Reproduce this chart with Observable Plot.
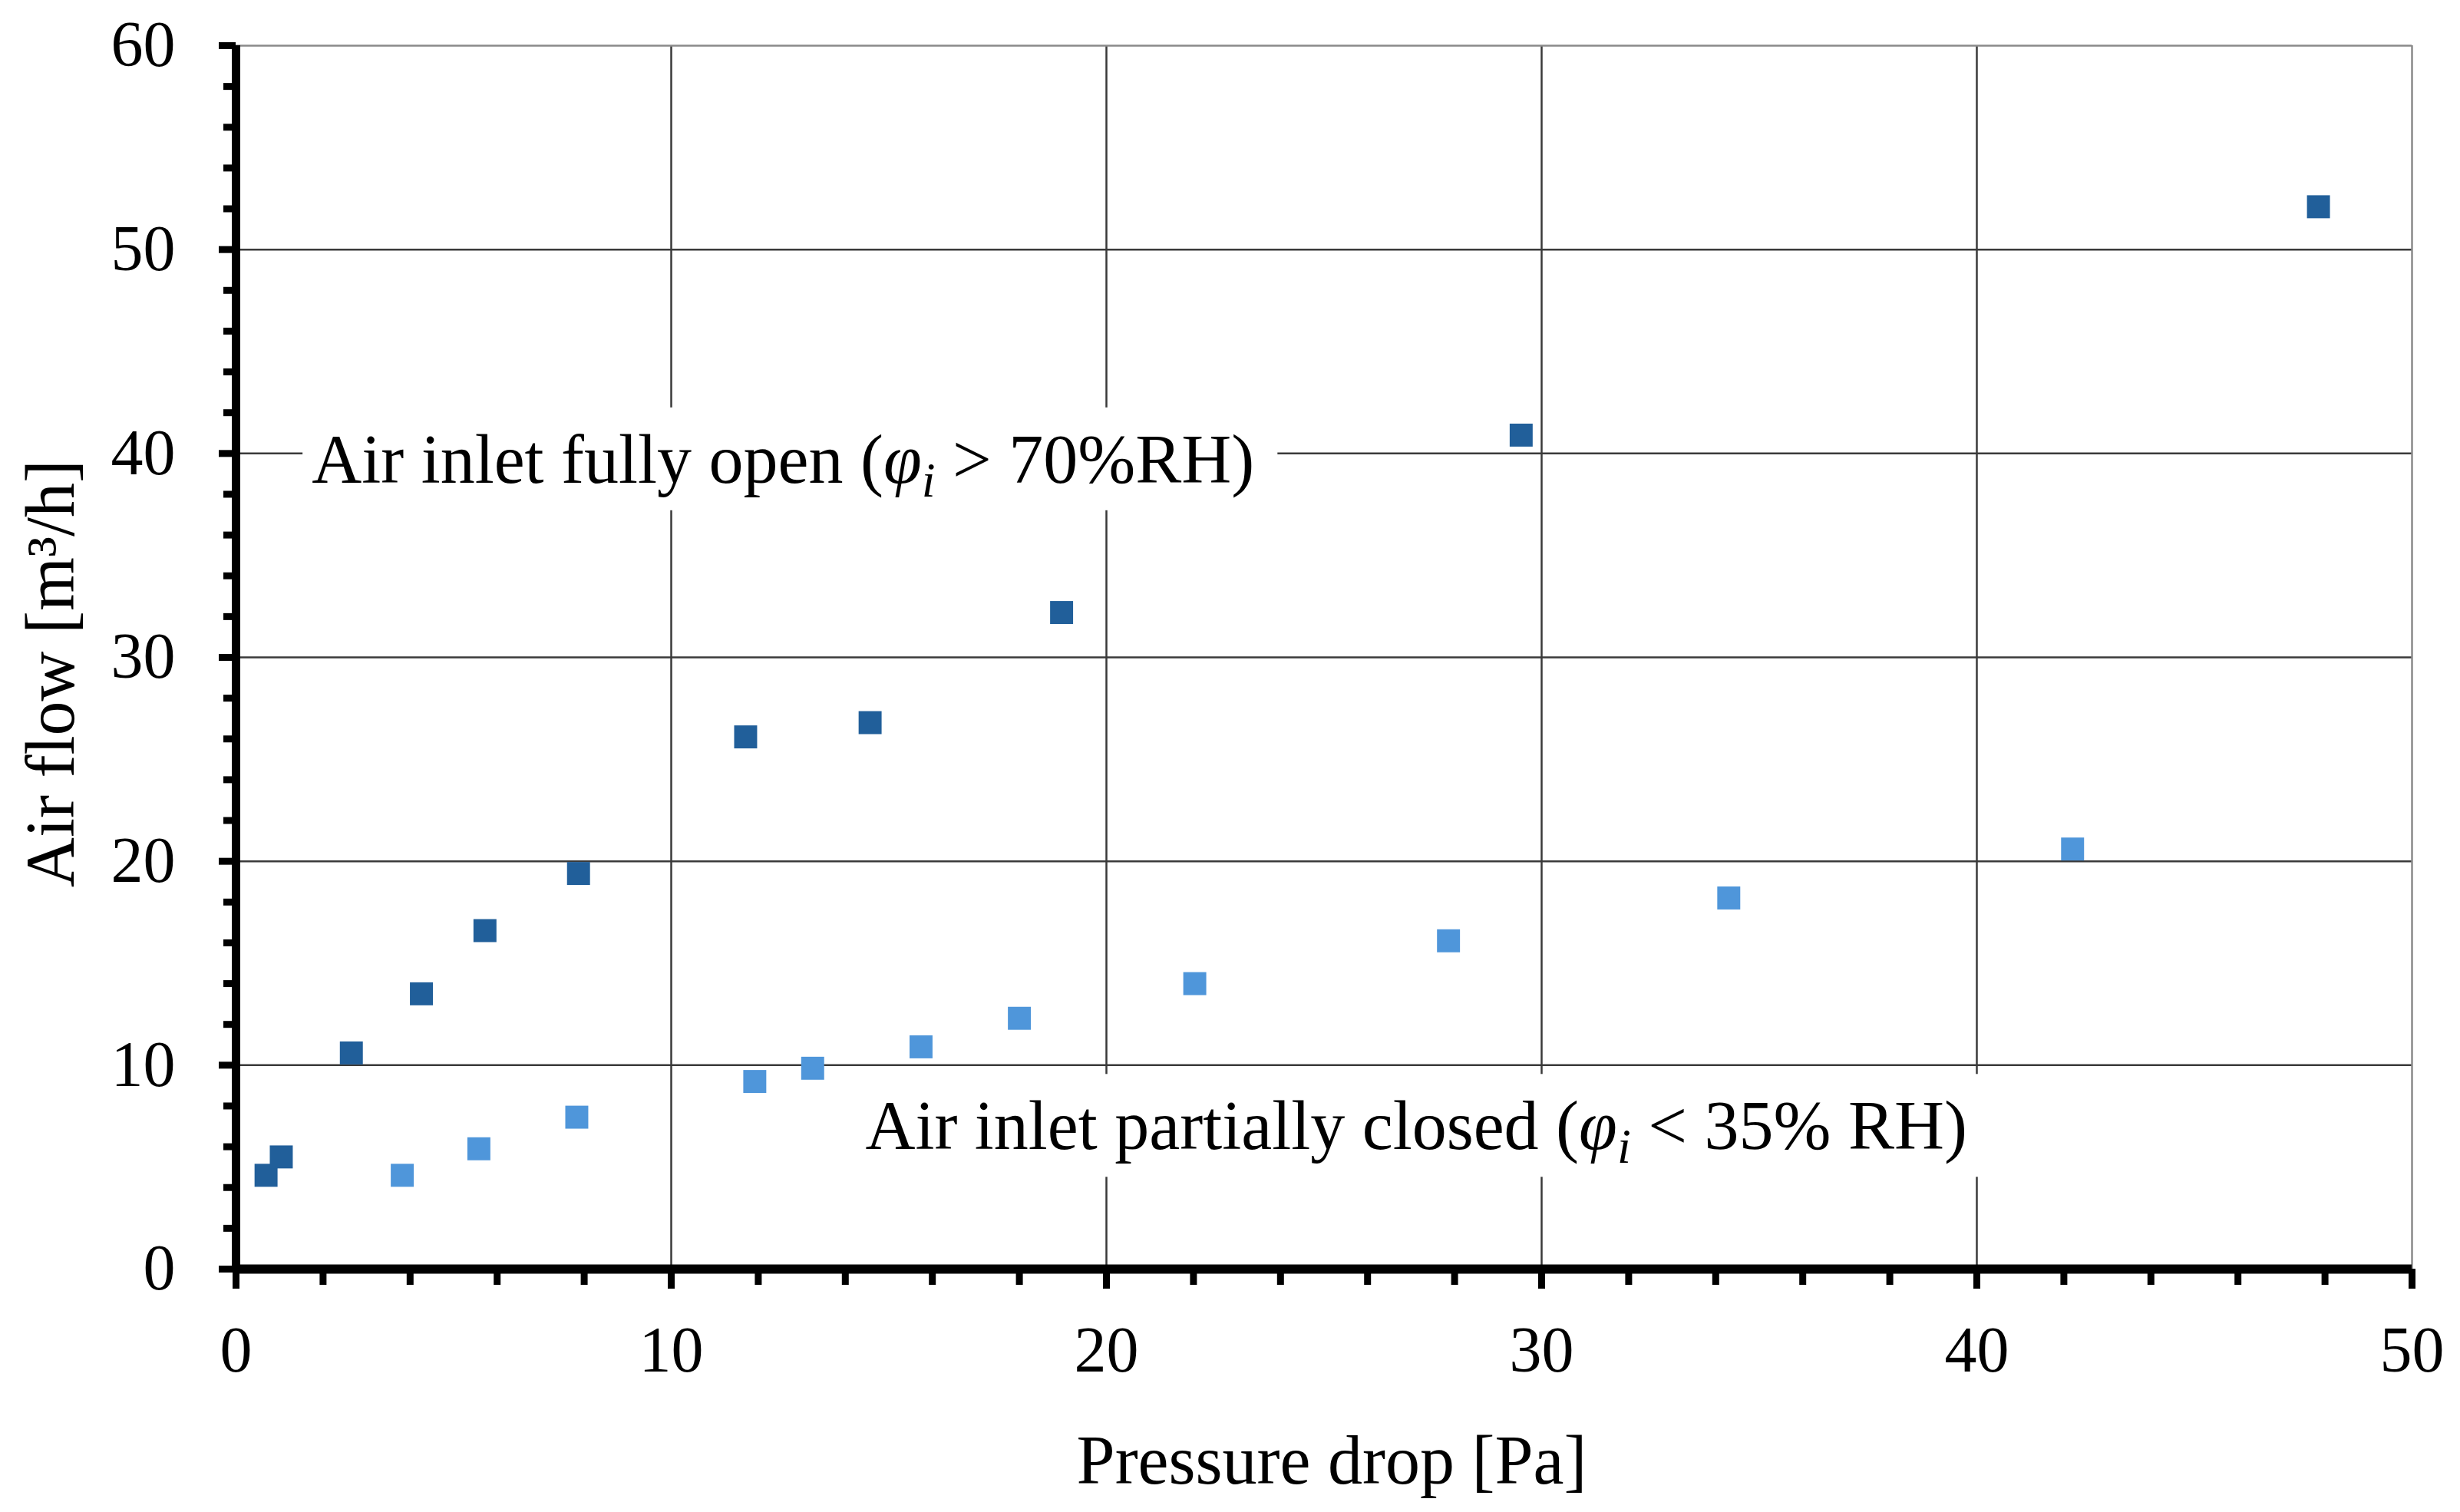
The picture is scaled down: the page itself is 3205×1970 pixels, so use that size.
<!DOCTYPE html>
<html>
<head>
<meta charset="utf-8">
<script src="https://cdn.jsdelivr.net/npm/d3@7"></script>
<script src="https://cdn.jsdelivr.net/npm/@observablehq/plot@0.6"></script>
<style>
  html, body { margin: 0; padding: 0; background: #fff; }
  svg { display: block; }
</style>
</head>
<body>
<div id="chart"></div>
<script>
// ---- data ----
const openX   = [0.69, 1.04, 2.65, 4.26, 5.72, 7.87, 11.71, 14.57, 18.97, 29.53, 47.85];
const openY   = [4.6, 5.5, 10.6, 13.5, 16.6, 19.4, 26.1, 26.8, 32.2, 40.9, 52.1];
const closedX = [3.82, 5.58, 7.83, 11.92, 13.25, 15.74, 18.0, 22.03, 27.86, 34.3, 42.2];
const closedY = [4.6, 5.9, 7.45, 9.2, 9.85, 10.9, 12.3, 14.0, 16.1, 18.2, 20.6];

const xTicks = [0, 10, 20, 30, 40, 50];
const yTicks = [0, 10, 20, 30, 40, 50, 60];
const xMinor = [2, 4, 6, 8, 12, 14, 16, 18, 22, 24, 26, 28, 32, 34, 36, 38, 42, 44, 46, 48];
const yMinor = [2, 4, 6, 8, 12, 14, 16, 18, 22, 24, 26, 28, 32, 34, 36, 38, 42, 44, 46, 48, 52, 54, 56, 58];
const xGrid = [10, 20, 30, 40];
const yGrid = [10, 20, 30, 40, 50];

const annoPre  = ["Air inlet fully open (", "Air inlet partially closed ("];
const annoSym  = ["φ", "φ"];
const annoSub  = ["i", "i"];
const annoPost = [" > 70%RH)", " < 35% RH)"];

const xLabel = "Pressure drop [Pa]";
const yLabel = "Air flow [m³/h]";

// ---- tables built from the arrays ----
const openData = openX.map((x, i) => ({px: x, flow: openY[i]}));
const closedData = closedX.map((x, i) => ({px: x, flow: closedY[i]}));
const annotations = annoPre.map((p, i) => ({
  pre: p, sym: annoSym[i], sub: annoSub[i], post: annoPost[i],
  ax: [1.74, 14.46][i], ay: [38.57, 5.88][i]
}));

const FONT = "Liberation Serif, Times New Roman, serif";
const DARK = "#215f9a";
const LIGHT = "#4f96da";

const chart = Plot.plot({
  width: 3205,
  height: 1970,
  marginLeft: 307,
  marginRight: 63,
  marginTop: 59,
  marginBottom: 317,
  x: {domain: [0, 50], label: null},
  y: {domain: [0, 60], label: null},
  style: {fontFamily: FONT, fontSize: "84px", background: "#fff", color: "#000"},
  marks: [
    // grid
    Plot.ruleX(xGrid, {stroke: "#3a3a3a", strokeWidth: 2.5}),
    Plot.ruleY(yGrid, {stroke: "#3a3a3a", strokeWidth: 2.5}),
    Plot.ruleX([50], {stroke: "#8a8a8a", strokeWidth: 2.5}),
    Plot.ruleY([60], {stroke: "#8a8a8a", strokeWidth: 2.5}),
    // annotations
    Plot.text(annotations, {
      x: "ax", y: "ay",
      text: d => d.pre + d.sym + d.sub + d.post,
      textAnchor: "start", lineAnchor: "bottom",
      fontSize: 90, fontFamily: FONT, fill: "#000"
    }),
    // data
    Plot.dot(closedData, {x: "px", y: "flow", symbol: "square", r: 16.9, fill: LIGHT, stroke: "none"}),
    Plot.dot(openData, {x: "px", y: "flow", symbol: "square", r: 16.9, fill: DARK, stroke: "none"}),
    // axis lines
    Plot.ruleY([0], {stroke: "#000", strokeWidth: 12}),
    Plot.ruleX([0], {stroke: "#000", strokeWidth: 11}),
    // x ticks
    Plot.axisX(xTicks, {tickSize: 26, strokeWidth: 9, fill: "none", label: null}),
    Plot.axisX(xMinor, {tickSize: 21, strokeWidth: 9, fill: "none", label: null}),
    Plot.axisX(xTicks, {tickSize: 0, tickPadding: 74, fontSize: 84, fontFamily: FONT, tickFormat: d => String(d), label: null}),
    // y ticks
    Plot.axisY(yTicks, {tickSize: 22, strokeWidth: 9, fill: "none", label: null}),
    Plot.axisY(yMinor, {tickSize: 16, strokeWidth: 9, fill: "none", label: null}),
    Plot.axisY(yTicks, {tickSize: 0, tickPadding: 79, fontSize: 84, fontFamily: FONT, tickFormat: d => String(d), label: null}),
    // axis titles
    Plot.text([xLabel], {frameAnchor: "bottom", lineAnchor: "bottom", textAnchor: "middle", dy: 279, dx: 10, fontSize: 90, fontFamily: FONT, fill: "#000"}),
    Plot.text([yLabel], {frameAnchor: "left", lineAnchor: "bottom", textAnchor: "middle", rotate: -90, dx: -212, dy: 21, fontSize: 90, fontFamily: FONT, fill: "#000"})
  ]
});

document.getElementById("chart").append(chart);

// rich text for annotations + white background boxes
const ns = "http://www.w3.org/2000/svg";
const allTexts = Array.from(chart.querySelectorAll("text"));
annotations.forEach(a => {
  const full = a.pre + a.sym + a.sub + a.post;
  const t = allTexts.find(el => el.textContent === full);
  if (!t) return;
  t.textContent = "";
  const s1 = document.createElementNS(ns, "tspan");
  s1.textContent = a.pre;
  const s2 = document.createElementNS(ns, "tspan");
  s2.setAttribute("font-style", "italic");
  s2.textContent = a.sym;
  const s3 = document.createElementNS(ns, "tspan");
  s3.setAttribute("font-style", "italic");
  s3.setAttribute("font-size", "64");
  s3.setAttribute("dy", "18");
  s3.textContent = a.sub;
  const s4 = document.createElementNS(ns, "tspan");
  s4.setAttribute("dy", "-18");
  s4.textContent = a.post;
  t.append(s1, s2, s3, s4);
  const bb = t.getBBox();
  const r = document.createElementNS(ns, "rect");
  r.setAttribute("x", bb.x - 12);
  r.setAttribute("y", bb.y - 18);
  r.setAttribute("width", bb.width + 42);
  r.setAttribute("height", bb.height + 22);
  r.setAttribute("fill", "#fff");
  const tr = t.getAttribute("transform");
  if (tr) r.setAttribute("transform", tr);
  t.parentNode.insertBefore(r, t);
});
</script>
</body>
</html>
